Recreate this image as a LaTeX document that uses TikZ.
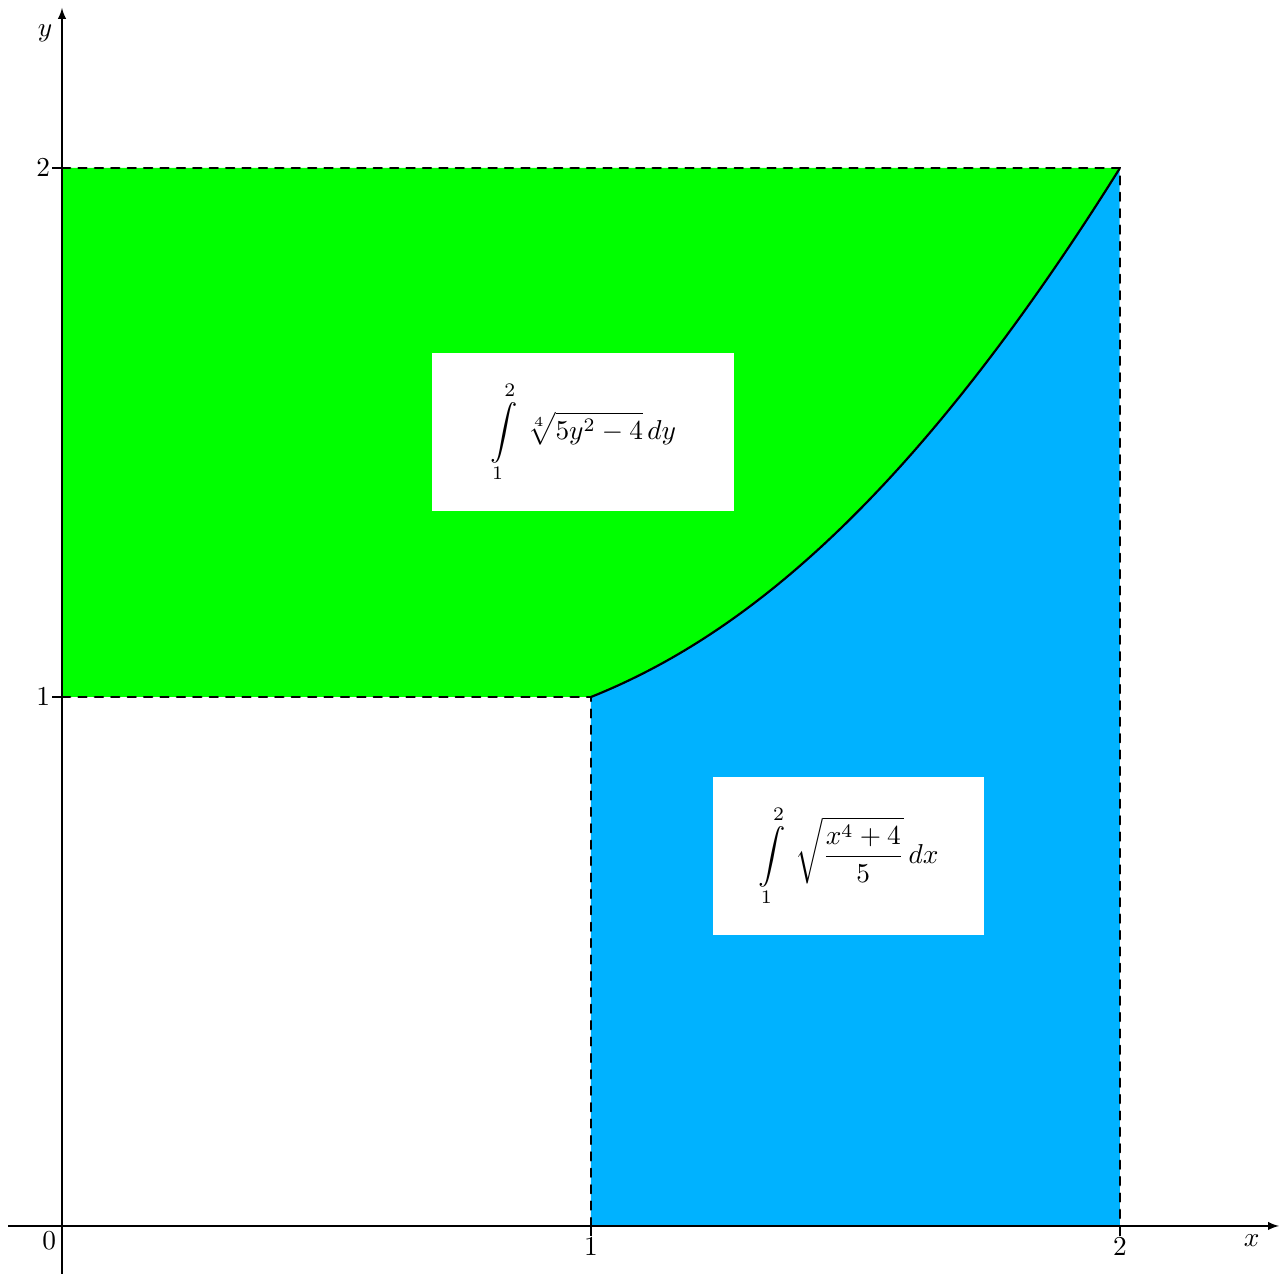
\documentclass[tikz,border=0pt]{standalone}
\usepackage{amsmath}
\usepackage{amssymb}
\usepackage{tikz}

\definecolor{areagreen}{RGB}{0,255,0}
\definecolor{areablue}{RGB}{0,178,255}

\begin{document}
\begin{tikzpicture}[x=6.8cm,y=6.8cm,
    bound/.style={thick,dashed,line cap=round},
    intbox/.style={fill=white,minimum height=2.03cm}]
    \useasboundingbox (-0.1172,-0.0907) rectangle (2.3006,2.3176);

    % Corners of the two regions
    \coordinate (O) at (0,0);
    \coordinate (A) at (1,1);
    \coordinate (B) at (2,2);
    \coordinate (Y1) at (0,1);
    \coordinate (Y2) at (0,2);
    \coordinate (X1) at (1,0);
    \coordinate (X2) at (2,0);

    % Fill the two areas
    \fill[areagreen] (Y1) -- (Y2) -- (B) -- plot[domain=2:1,samples=80] (\x,{sqrt((\x^4+4)/5)}) -- cycle;
    \fill[areablue] (X1) -- (A) -- plot[domain=1:2,samples=80] (\x,{sqrt((\x^4+4)/5)}) -- (X2) -- cycle;

    % Axes
    \coordinate (xs) at (-0.102,0);
    \coordinate (xe) at (2.3006,0);
    \coordinate (ys) at (0,-0.0907);
    \coordinate (ye) at (0,2.3026);
    \draw[-latex] (xs) -- (xe);
    \draw[-latex] (ys) -- (ye);
    \node (xlab) at (2.249,-0.027) {$x$};
    \node (ylab) at (-0.032,2.255) {$y$};
    \node[below left,inner sep=2pt] (zero) at (O) {$0$};

    % Ticks
    \foreach \i in {1,2} {
        \draw (\i,0) -- (\i,-0.019) node[below,inner sep=0.5pt] (xt\i) {$\i$};
        \draw (0,\i) -- (-0.019,\i) node[left,inner sep=0.5pt] (yt\i) {$\i$};
    }

    % Dashed bounds
    \draw[bound] (Y2) -- (B) -- (X2);
    \draw[bound] (Y1) -- (A) -- (X1);

    % The curve
    \draw[thick] plot[domain=1:2,samples=80] (\x,{sqrt((\x^4+4)/5)});

    % Integrals
    \node[intbox,minimum width=3.88cm] (inty) at (0.985,1.501)
        {$\displaystyle\int\limits_1^2 \,\sqrt[4]{5y^2-4}\,dy$};
    \node[intbox,minimum width=3.48cm] (intx) at (1.487,0.699)
        {$\displaystyle\int\limits_1^2 \,\sqrt{\frac{x^4+4}{5}}\,dx$};

\end{tikzpicture}
\end{document}
